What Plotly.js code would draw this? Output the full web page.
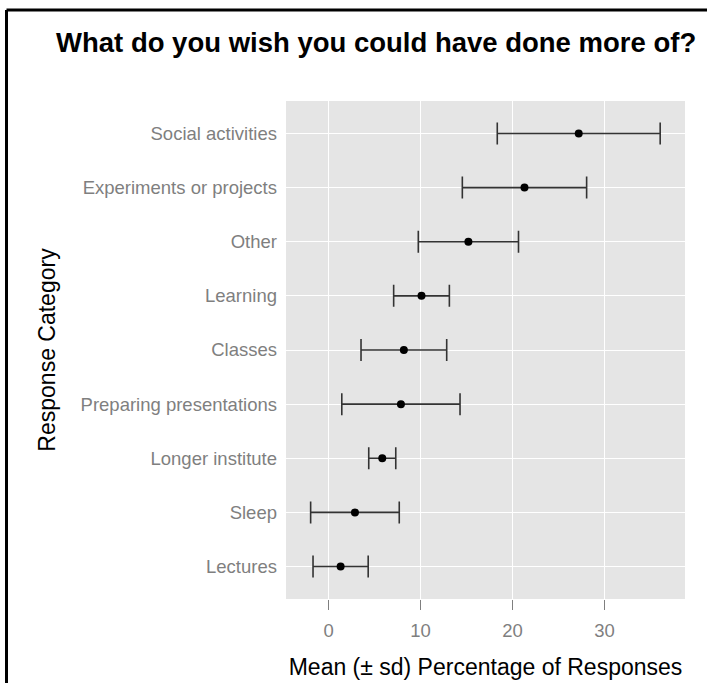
<!DOCTYPE html>
<html>
<head>
<meta charset="utf-8">
<script src="https://cdn.plot.ly/plotly-3.0.1.min.js"></script>
<style>
html,body{margin:0;padding:0;background:#fff;}
#chart{width:707px;height:683px;}
</style>
</head>
<body>
<div id="chart"></div>
<script>
const categories = ["Lectures","Sleep","Longer institute","Preparing presentations","Classes","Learning","Other","Experiments or projects","Social activities"];
const means = [1.3, 2.86, 5.83, 7.86, 8.18, 10.1, 15.2, 21.3, 27.2];
const sds = [3.0, 4.82, 1.47, 6.43, 4.66, 3.03, 5.45, 6.76, 8.86];
const xTicks = [0, 10, 20, 30];

const trace = {
  type: 'scatter',
  mode: 'markers',
  x: means,
  y: categories,
  marker: {color: '#000', size: 8},
  error_x: {type: 'data', array: sds, visible: true, color: '#333333', thickness: 1.6, width: 11},
  hoverinfo: 'x+y'
};

const layout = {
  width: 707, height: 683,
  margin: {l: 286, r: 22, t: 101, b: 84},
  paper_bgcolor: '#ffffff',
  plot_bgcolor: '#e5e5e5',
  font: {family: 'Liberation Sans, Arial, sans-serif'},
  showlegend: false,
  title: {
    text: '<b>What do you wish you could have done more of?</b>',
    font: {size: 27.5, color: '#000'},
    x: 0.532, xanchor: 'center', y: 0.938, yanchor: 'middle'
  },
  xaxis: {
    range: [-4.64, 38.76],
    tickvals: xTicks,
    ticktext: xTicks.map(String),
    showgrid: true, gridcolor: '#ffffff', gridwidth: 1.2,
    zeroline: false, showline: false,
    ticks: 'outside', ticklen: 10, tickcolor: '#7f7f7f', tickwidth: 1,
    ticklabelstandoff: 5,
    tickfont: {size: 18.5, color: '#7f7f7f'},
    title: {text: 'Mean (± sd) Percentage of Responses', font: {size: 23, color: '#000'}, standoff: 18}
  },
  yaxis: {
    type: 'category',
    categoryorder: 'array', categoryarray: categories,
    range: [-0.6, 8.6],
    showgrid: true, gridcolor: '#ffffff', gridwidth: 1.2,
    zeroline: false, showline: false,
    ticks: '',
    ticklabelstandoff: 8,
    tickfont: {size: 18.5, color: '#7f7f7f'},
    title: {text: 'Response Category', font: {size: 23, color: '#000'}, standoff: 18}
  },
  shapes: [
    {type: 'line', xref: 'paper', yref: 'paper', x0: -0.7005, x1: 1.06, y0: 1.1827, y1: 1.1827, line: {color: '#000', width: 3}},
    {type: 'line', xref: 'paper', yref: 'paper', x0: -0.7005, x1: -0.7005, y0: 1.1827, y1: -0.2, line: {color: '#000', width: 3}}
  ]
};

Plotly.newPlot('chart', [trace], layout, {displayModeBar: false, responsive: false});
</script>
</body>
</html>
